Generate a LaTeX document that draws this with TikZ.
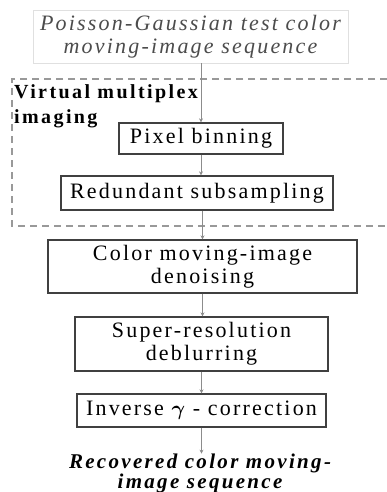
\documentclass[tikz,border=0pt]{standalone}
\usepackage{fontspec}
\setmainfont{Liberation Serif}
\usetikzlibrary{calc}
\usetikzlibrary{positioning}
\usetikzlibrary{arrows.meta}
\tikzstyle{stepbox} = [draw=black!75, line width=1.3pt, fill=white, inner sep=0pt, align=center, font=\fontsize{22}{23}\selectfont\addfontfeature{LetterSpace=10}]
\tikzstyle{inbox} = [draw=black!12, line width=0.8pt, fill=white, inner sep=0pt, align=center, text=black!70, font=\fontsize{22}{23}\selectfont\itshape\addfontfeature{LetterSpace=10}]
\tikzstyle{outtext} = [inner sep=0pt, align=center, font=\fontsize{21}{20}\selectfont\bfseries\itshape\addfontfeature{LetterSpace=11}]
\tikzstyle{grouplabel} = [inner sep=0pt, align=left, font=\fontsize{20}{25}\selectfont\bfseries\addfontfeature{LetterSpace=12}]
\tikzstyle{groupframe} = [draw=black!40, line width=1.5pt, dash pattern=on 7pt off 5pt]
\tikzstyle{flow} = [draw=black!45, line width=0.8pt, -{Stealth[length=4pt,width=4pt]}]

\begin{document}
\begin{tikzpicture}[x=1pt, y=-1pt]
    \useasboundingbox (0,0) rectangle (387,492);

    % virtual multiplex imaging frame
    \draw[groupframe] (387,79) -- (12,79) -- (12,226) -- (387,226);
    \node[grouplabel, anchor=north west] (vmi_label) at (14,84) {Virtual multiplex\\imaging};

    \node[inbox, minimum width=315pt, minimum height=53pt] (test_seq) at (190.5,36.5) {Poisson-Gaussian test color\\moving-image sequence};
    \node[stepbox, minimum width=164pt, minimum height=31pt] (pix_bin) at ($(test_seq)+(10.5,102)$) {Pixel binning};
    \node[stepbox, minimum width=272pt, minimum height=34pt] (red_sub) at ($(pix_bin)+(-4,54.5)$) {Redundant subsampling};
    \node[stepbox, minimum width=309pt, minimum height=53pt] (col_den) at ($(red_sub)+(5.5,73.5)$) {Color moving-image\\denoising};
    \node[stepbox, minimum width=253pt, minimum height=54pt] (sr_deb) at ($(col_den)+(-1,77.5)$) {Super-resolution\\deblurring};
    \node[stepbox, minimum width=249pt, minimum height=33pt] (inv_gam) at ($(sr_deb)+(0,66.5)$) {Inverse {\boldmath$\gamma$} - correction};
    \node[outtext, anchor=north] (rec_seq) at ($(inv_gam.south)+(-1.5,26)$) {Recovered color moving-\\image sequence};

    \draw[flow] (pix_bin.north |- test_seq.south) -- (pix_bin.north);
    \draw[flow] (pix_bin.south) -- (pix_bin.south |- red_sub.north);
    \draw[flow] (col_den.north |- red_sub.south) -- (col_den.north);
    \draw[flow] (col_den.south) -- (col_den.south |- sr_deb.north);
    \draw[flow] (sr_deb.south) -- (inv_gam.north);
    \draw[flow] (inv_gam.south) -- (inv_gam.south |- rec_seq.north);
\end{tikzpicture}
\end{document}
